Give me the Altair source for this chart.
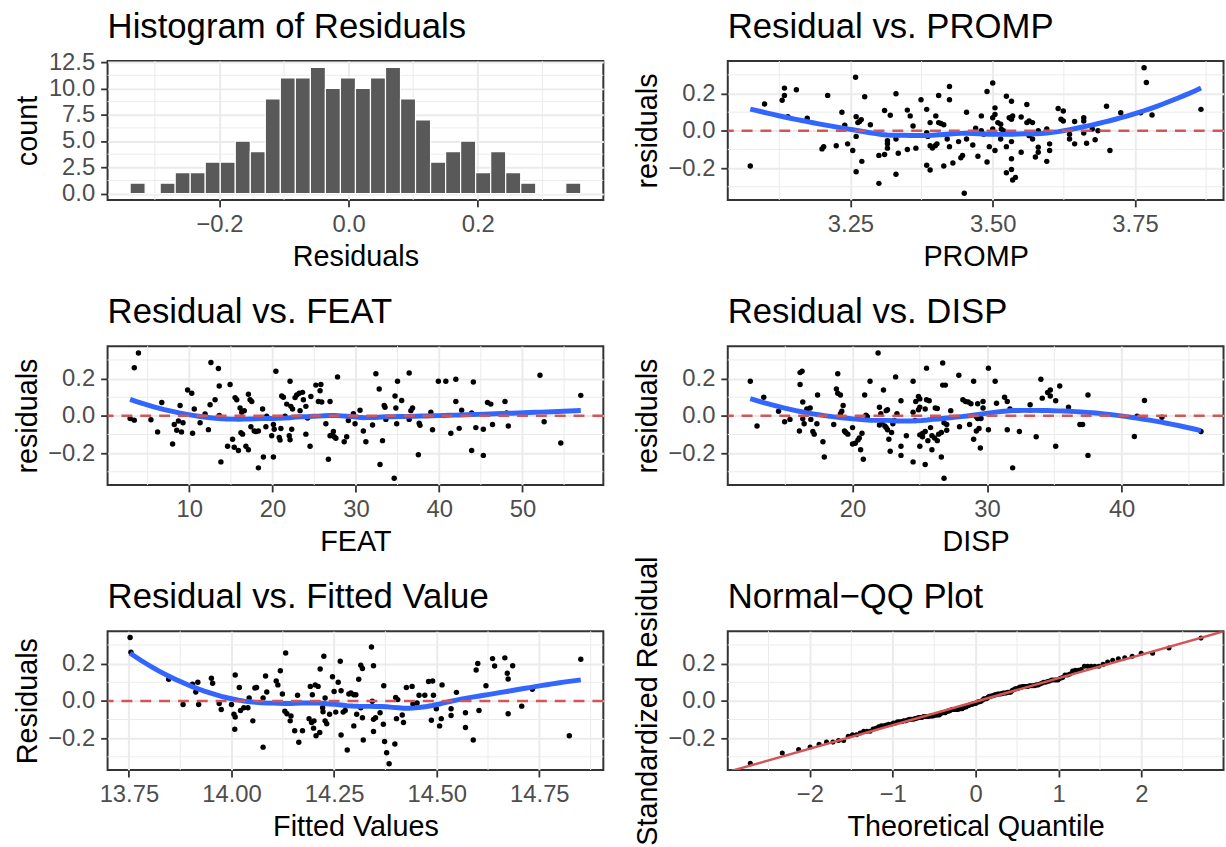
import altair as alt
import numpy as np
import pandas as pd
from statistics import NormalDist

FONT = "Liberation Sans"
GRID = "#EBEBEB"
BORDER = "#333333"
SMOOTH = "#3366FF"
REDLINE = "#D45555"
BARFILL = "#595959"

TITLES = ["Histogram of Residuals", "Residual vs. PROMP", "Residual vs. FEAT",
          "Residual vs. DISP", "Residual vs. Fitted Value", "Normal\u2212QQ Plot"]

# ---------------- histogram (bin counts) ----------------
HIST_COUNTS = [1, 0, 1, 2, 2, 3, 3, 5, 4, 9, 11, 11, 12, 10, 11, 10, 11, 12, 9, 7,
               3, 4, 5, 2, 4, 2, 1, 0, 0, 1]
HIST_FIRST_CENTER = -0.3267
HIST_BIN_WIDTH = 0.02326
HIST_X_TICKS = [-0.2, 0.0, 0.2]
HIST_X_MINOR = [-0.3, -0.1, 0.1, 0.3]
HIST_Y_TICKS = [0, 2.5, 5, 7.5, 10, 12.5]
HIST_Y_MINOR = [1.25, 3.75, 6.25, 8.75, 11.25]

# ---------------- residual axis ----------------
RES_TICKS = [-0.2, 0.0, 0.2]
RES_MINOR = [-0.3, -0.1, 0.1, 0.3]
REF_LEVEL = [0.0]

# ---------------- PROMP ----------------
PROMP_X = [3.074, 3.099, 3.130, 3.134, 3.134, 3.155, 3.140, 3.174, 3.210, 3.200,
           3.203, 3.225, 3.235, 3.240, 3.245, 3.254, 3.259, 3.260, 3.263, 3.266,
           3.269, 3.260, 3.260, 3.270, 3.275, 3.285, 3.300, 3.300, 3.310, 3.310,
           3.315, 3.315, 3.315, 3.320, 3.330, 3.330, 3.330, 3.334, 3.350, 3.355,
           3.350, 3.360, 3.365, 3.374, 3.384, 3.384, 3.386, 3.384, 3.390, 3.390,
           3.390, 3.394, 3.399, 3.402, 3.400, 3.405, 3.405, 3.409, 3.414, 3.414,
           3.420, 3.424, 3.424, 3.424, 3.430, 3.440, 3.444, 3.447, 3.450, 3.454,
           3.454, 3.465, 3.470, 3.474, 3.480, 3.480, 3.484, 3.490, 3.490, 3.494,
           3.500, 3.500, 3.500, 3.504, 3.504, 3.504, 3.509, 3.514, 3.515, 3.519,
           3.514, 3.524, 3.524, 3.524, 3.529, 3.533, 3.535, 3.533, 3.533, 3.533,
           3.533, 3.535, 3.540, 3.550, 3.550, 3.560, 3.560, 3.564, 3.570, 3.564,
           3.570, 3.575, 3.580, 3.580, 3.580, 3.595, 3.595, 3.600, 3.600, 3.615,
           3.624, 3.620, 3.624, 3.635, 3.635, 3.644, 3.644, 3.660, 3.660, 3.660,
           3.665, 3.675, 3.680, 3.685, 3.700, 3.706, 3.725, 3.766, 3.770, 3.760,
           3.780, 3.866]
PROMP_RES = [-0.189, 0.144, 0.164, 0.229, 0.190, 0.220, 0.075, 0.067, 0.190, -0.097,
             -0.085, -0.080, 0.100, 0.030, -0.070, -0.106, 0.287, 0.076, 0.044, 0.050,
             0.060, -0.030, -0.220, -0.164, 0.183, 0.032, -0.282, -0.132, -0.127, 0.109,
             -0.053, -0.070, -0.093, 0.083, 0.199, -0.044, -0.233, -0.120, 0.111, 0.080,
             -0.100, 0.026, -0.093, 0.167, 0.115, -0.010, -0.030, -0.185, -0.210, 0.044,
             -0.080, -0.092, -0.080, -0.070, 0.080, 0.189, 0.044, 0.039, 0.032, -0.189,
             -0.044, 0.238, 0.167, -0.085, -0.173, -0.058, -0.145, -0.132, -0.335, 0.100,
             -0.044, -0.076, 0.014, -0.137, 0.080, 0.000, -0.018, -0.167, 0.211, -0.085,
             0.256, 0.010, 0.070, 0.088, 0.123, -0.106, 0.044, 0.035, 0.009, 0.000,
             -0.044, 0.185, -0.225, -0.085, 0.070, 0.062, 0.079, 0.159, -0.058, -0.150,
             -0.208, -0.264, -0.250, 0.074, -0.115, 0.141, 0.044, 0.053, 0.044, -0.026,
             -0.044, -0.141, -0.115, -0.088, 0.000, 0.010, -0.164, -0.070, -0.106, 0.120,
             0.106, 0.062, 0.053, -0.018, -0.044, -0.070, 0.050, 0.070, 0.053, -0.012,
             -0.067, 0.010, -0.048, 0.000, 0.132, -0.106, 0.097, 0.338, 0.259, 0.097,
             0.085, 0.115]
PROMP_TICKS = [3.25, 3.50, 3.75]
PROMP_MINOR = [3.125, 3.375, 3.625, 3.875]

# ---------------- FEAT ----------------
FEAT_X = [2.9, 3.4, 3.4, 3.9, 5.4, 6.2, 6.7, 8.0, 8.2, 8.5,
          8.7, 8.9, 9.07, 9.25, 9.8, 10.3, 10.4, 10.6, 11.3, 11.9,
          12.3, 12.5, 12.6, 13.1, 13.5, 13.6, 13.6, 13.8, 14.6, 14.9,
          15.2, 15.4, 15.5, 15.7, 15.9, 16.1, 16.2, 16.4, 16.3, 16.6,
          16.8, 17.1, 17.1, 17.3, 17.5, 17.4, 17.8, 18.0, 18.3, 18.3,
          18.8, 18.9, 19.2, 19.3, 19.9, 20.1, 20.1, 20.2, 20.4, 20.8,
          20.9, 21.0, 21.1, 21.3, 21.5, 21.7, 22.0, 22.1, 22.1, 22.2,
          22.4, 22.3, 22.7, 22.9, 23.2, 23.6, 23.3, 23.7, 24.0, 24.0,
          24.2, 24.5, 24.6, 25.2, 25.8, 25.5, 25.7, 25.9, 26.4, 26.7,
          26.9, 26.9, 27.1, 27.4, 27.6, 27.3, 27.8, 28.6, 28.9, 29.1,
          29.7, 29.9, 30.5, 30.9, 31.2, 32.0, 32.4, 32.8, 32.9, 33.2,
          33.4, 33.5, 33.6, 34.6, 34.7, 34.8, 35.0, 34.9, 35.5, 36.4,
          36.4, 36.6, 36.8, 37.5, 37.6, 37.7, 39.0, 39.2, 39.9, 40.8,
          41.4, 42.0, 42.0, 42.4, 42.7, 43.9, 43.9, 44.1, 44.4, 45.3,
          45.3, 45.8, 46.2, 46.4, 47.9, 48.1, 48.3, 52.1, 52.6, 54.6,
          57.0]
FEAT_RES = [-0.014, -0.023, 0.258, 0.337, -0.021, -0.086, 0.072, -0.151, -0.046, -0.077,
            -0.028, 0.056, -0.086, -0.037, 0.139, 0.121, -0.093, 0.037, -0.037, 0.010,
            -0.074, 0.060, 0.286, 0.086, 0.254, 0.160, 0.002, -0.247, -0.163, 0.168,
            -0.125, -0.168, 0.098, 0.086, -0.186, 0.042, -0.090, -0.098, 0.019, 0.028,
            -0.163, -0.182, 0.116, 0.086, 0.077, -0.058, -0.081, -0.084, -0.081, -0.279,
            0.037, -0.221, -0.058, -0.002, -0.107, -0.221, -0.046, -0.072, 0.239, -0.116,
            -0.130, -0.068, 0.107, 0.100, -0.002, 0.063, -0.107, -0.128, 0.186, 0.051,
            0.037, -0.072, 0.098, 0.112, 0.121, 0.126, 0.028, 0.086, 0.051, -0.098,
            -0.011, -0.163, 0.104, 0.165, 0.168, 0.077, 0.135, 0.074, -0.042, -0.233,
            0.077, -0.107, -0.104, -0.112, -0.120, -0.084, 0.209, -0.139, -0.112, -0.025,
            0.011, -0.042, 0.030, -0.081, -0.139, -0.049, 0.226, 0.144, -0.261, -0.133,
            0.056, 0.046, -0.019, -0.335, 0.107, 0.042, 0.186, -0.042, 0.082, 0.230,
            -0.019, 0.028, 0.042, -0.209, -0.040, -0.051, 0.019, -0.075, 0.186, 0.186,
            -0.093, 0.077, 0.196, -0.067, 0.030, -0.186, 0.016, 0.182, -0.063, -0.212,
            -0.072, 0.072, 0.063, -0.046, 0.077, 0.016, -0.054, 0.218, -0.032, -0.146,
            0.110]
FEAT_TICKS = [10, 20, 30, 40, 50]
FEAT_MINOR = [5, 15, 25, 35, 45, 55]

# ---------------- DISP ----------------
DISP_X = [12.4, 12.9, 13.4, 14.5, 14.95, 15.35, 16.05, 16.1, 16.25, 16.1,
          16.3, 16.3, 16.4, 16.6, 16.85, 16.9, 17.05, 17.15, 17.35, 17.4,
          17.8, 17.9, 18.6, 18.8, 18.9, 19.1, 18.9, 19.1, 19.2, 19.3,
          19.4, 19.5, 19.65, 20.0, 20.0, 20.2, 20.4, 20.5, 20.6, 20.7,
          20.8, 20.9, 21.0, 21.1, 21.3, 21.9, 22.0, 22.0, 22.1, 22.3,
          22.2, 22.4, 22.5, 22.6, 22.5, 22.6, 22.7, 22.8, 22.9, 23.0,
          23.1, 23.2, 23.3, 23.6, 23.6, 23.6, 24.0, 24.5, 24.5, 24.5,
          24.65, 24.7, 24.9, 25.0, 24.9, 25.0, 25.0, 25.2, 25.4, 25.0,
          25.2, 25.4, 25.5, 25.7, 25.4, 25.5, 25.6, 25.9, 25.8, 25.9,
          26.1, 26.3, 26.15, 26.3, 26.4, 26.6, 26.6, 26.7, 26.7, 26.9,
          26.8, 27.0, 27.0, 26.8, 27.3, 27.9, 27.95, 28.2, 28.4, 28.6,
          28.8, 28.7, 29.0, 29.0, 29.2, 29.3, 29.2, 29.4, 29.3, 29.5,
          29.55, 29.7, 29.7, 30.1, 30.1, 30.6, 30.7, 31.3, 31.5, 31.5,
          31.7, 31.9, 32.4, 33.2, 33.65, 34.0, 34.1, 34.5, 34.7, 34.7,
          35.1, 35.1, 35.4, 36.05, 36.9, 37.1, 37.5, 37.5, 40.95, 41.15,
          41.7, 43.0, 45.9]
DISP_RES = [0.186, -0.054, 0.100, 0.025, -0.032, -0.019, -0.081, 0.232, 0.239, 0.168,
            0.074, -0.016, -0.042, 0.037, 0.042, -0.019, -0.084, -0.098, -0.042, 0.112,
            -0.139, -0.221, -0.046, 0.144, 0.121, 0.112, 0.226, 0.012, 0.025, 0.056,
            -0.081, -0.089, -0.098, -0.063, -0.151, -0.147, -0.130, -0.119, -0.182, -0.093,
            -0.233, 0.112, 0.004, -0.005, 0.186, 0.337, -0.049, 0.046, 0.011, 0.139,
            -0.033, -0.054, 0.028, 0.033, -0.063, -0.075, -0.125, -0.190, -0.089, -0.042,
            -0.025, 0.209, 0.011, -0.212, 0.081, -0.163, -0.107, 0.186, 0.019, -0.247,
            -0.025, 0.077, 0.104, 0.091, 0.033, 0.047, -0.102, -0.095, -0.084, -0.163,
            -0.112, 0.037, 0.086, 0.081, -0.261, 0.256, -0.133, -0.182, -0.063, -0.107,
            -0.119, -0.133, 0.042, 0.039, -0.098, -0.089, -0.221, 0.284, 0.165, 0.165,
            -0.037, -0.046, -0.077, -0.335, 0.028, 0.218, -0.058, 0.086, 0.077, 0.074,
            0.065, -0.046, 0.186, -0.125, -0.005, -0.014, -0.081, -0.068, 0.065, -0.172,
            -0.014, 0.042, 0.077, 0.256, -0.075, 0.186, 0.068, 0.100, 0.077, -0.075,
            0.037, -0.279, -0.084, 0.060, -0.112, 0.196, 0.095, 0.125, 0.139, 0.107,
            -0.163, 0.081, 0.160, 0.047, -0.046, -0.046, -0.212, 0.112, -0.111, -0.002,
            0.082, -0.007, -0.084]
DISP_TICKS = [20, 30, 40]
DISP_MINOR = [15, 25, 35, 45]

# ---------------- Fitted values ----------------
FITTED_X = [13.753, 13.755, 13.847, 13.882, 13.905, 13.913, 13.918, 13.920, 13.951, 13.954,
            13.970, 13.975, 14.000, 14.006, 14.009, 14.008, 14.009, 14.019, 14.022, 14.030,
            14.040, 14.043, 14.052, 14.057, 14.061, 14.077, 14.077, 14.083, 14.086, 14.109,
            14.113, 14.119, 14.124, 14.130, 14.135, 14.145, 14.132, 14.143, 14.154, 14.173,
            14.161, 14.164, 14.189, 14.195, 14.201, 14.192, 14.197, 14.204, 14.211, 14.200,
            14.206, 14.215, 14.216, 14.222, 14.223, 14.225, 14.228, 14.232, 14.228, 14.239,
            14.246, 14.250, 14.254, 14.260, 14.265, 14.267, 14.267, 14.272, 14.277, 14.282,
            14.286, 14.291, 14.298, 14.303, 14.298, 14.305, 14.310, 14.315, 14.319, 14.315,
            14.319, 14.321, 14.341, 14.343, 14.346, 14.346, 14.351, 14.346, 14.362, 14.370,
            14.371, 14.373, 14.378, 14.384, 14.398, 14.400, 14.405, 14.402, 14.416, 14.419,
            14.426, 14.440, 14.442, 14.452, 14.457, 14.471, 14.480, 14.490, 14.487, 14.492,
            14.499, 14.507, 14.511, 14.513, 14.535, 14.535, 14.548, 14.570, 14.570, 14.589,
            14.596, 14.600, 14.603, 14.620, 14.636, 14.641, 14.666, 14.672, 14.674, 14.674,
            14.685, 14.707, 14.733, 14.823, 14.851]
FITTED_RES = [0.340, 0.261, 0.116, -0.019, 0.090, 0.048, 0.100, -0.019, 0.122, 0.095,
              -0.014, -0.046, -0.019, -0.072, -0.086, -0.152, 0.139, 0.072, -0.051, -0.037,
              -0.037, 0.016, -0.107, 0.069, 0.072, -0.248, 0.016, 0.134, 0.048, 0.107,
              0.086, 0.162, 0.037, -0.055, -0.069, -0.081, 0.257, -0.107, -0.160, -0.160,
              0.030, -0.222, -0.095, -0.116, -0.107, 0.078, 0.033, 0.086, 0.078, -0.146,
              -0.187, -0.169, 0.171, -0.037, -0.058, 0.240, -0.107, -0.122, 0.016, -0.072,
              0.130, 0.051, -0.060, 0.100, 0.213, 0.055, -0.183, -0.060, -0.051, -0.263,
              0.037, 0.042, 0.033, 0.033, -0.134, -0.072, 0.116, 0.192, 0.174, -0.037,
              -0.090, -0.210, 0.289, -0.002, 0.189, -0.099, -0.090, -0.164, -0.063, -0.125,
              0.081, -0.218, -0.278, -0.337, -0.231, 0.019, 0.007, -0.095, -0.076, -0.116,
              0.072, 0.078, -0.016, -0.011, 0.030, 0.030, 0.104, 0.107, -0.104, 0.030,
              -0.042, -0.134, -0.095, 0.086, -0.042, -0.078, 0.046, -0.063, -0.143, -0.210,
              0.166, 0.201, -0.051, 0.081, 0.227, 0.187, 0.231, 0.148, 0.118, -0.069,
              0.189, -0.028, 0.063, -0.187, 0.224]
FITTED_TICKS = [13.75, 14.00, 14.25, 14.50, 14.75]
FITTED_MINOR = [13.875, 14.125, 14.375, 14.625, 14.875]

# ---------------- QQ ----------------
QQ_TICKS = [-2, -1, 0, 1, 2]
QQ_MINOR = [-2.5, -1.5, -0.5, 0.5, 1.5, 2.5]

# ======================================================================
PANEL_W = 500
PANEL_H = 140


def expand(values, frac=0.05):
    lo, hi = float(min(values)), float(max(values))
    r = hi - lo
    return [lo - frac * r, hi + frac * r]


def loess_curve(x, y, span=0.75, n=80):
    x = np.asarray(x, float)
    y = np.asarray(y, float)
    N = len(x)
    q = int(np.floor(N * span))
    grid = np.linspace(x.min(), x.max(), n)
    fit = []
    for g in grid:
        d = np.abs(x - g)
        h = np.sort(d)[q - 1]
        w = np.clip(1 - (d / h) ** 3, 0, None) ** 3
        X = np.column_stack([np.ones(N), x - g, (x - g) ** 2])
        sw = np.sqrt(w)
        beta = np.linalg.lstsq(X * sw[:, None], y * sw, rcond=None)[0]
        fit.append(beta[0])
    return grid, np.array(fit)


RES_DOMAIN = expand(PROMP_RES + FEAT_RES + DISP_RES + FITTED_RES)


def xaxis(title, values, fmt):
    return alt.Axis(title=title, values=values, format=fmt)


def yaxis(title, values, fmt):
    return alt.Axis(title=title, values=values, format=fmt, titleX=-72,
                    titleY=PANEL_H / 2, titleAngle=270, titleBaseline="alphabetic",
                    titleAlign="center")


def title_layer(text):
    return alt.Chart(pd.DataFrame({"t": [text]})).mark_text(
        align="left", baseline="alphabetic", font=FONT, fontSize=35, color="black"
    ).encode(x=alt.value(0), y=alt.value(-23), text="t:N")


def minor_layers(xs, ys, xax, yax, xminor, yminor):
    gx = alt.Chart(pd.DataFrame({"gx": xminor})).mark_rule(
        color=GRID, strokeWidth=1).encode(x=alt.X("gx:Q", scale=xs, axis=xax))
    gy = alt.Chart(pd.DataFrame({"gy": yminor})).mark_rule(
        color=GRID, strokeWidth=1).encode(y=alt.Y("gy:Q", scale=ys, axis=yax))
    return [gx, gy]


def scatter_panel(title, xv, yv, xticks, xminor, xfmt, xtitle, ytitle):
    xs = alt.Scale(domain=expand(xv), nice=False, zero=False)
    ys = alt.Scale(domain=RES_DOMAIN, nice=False, zero=False)
    xax = xaxis(xtitle, xticks, xfmt)
    yax = yaxis(ytitle, RES_TICKS, ".1f")
    pts = alt.Chart(pd.DataFrame({"x": xv, "y": yv})).mark_circle(
        size=30, color="black", opacity=1).encode(
        x=alt.X("x:Q", scale=xs, axis=xax), y=alt.Y("y:Q", scale=ys, axis=yax))
    sx, sy = loess_curve(xv, yv)
    smooth = alt.Chart(pd.DataFrame({"x": sx, "y": sy})).mark_line(
        color=SMOOTH, strokeWidth=5).encode(
        x=alt.X("x:Q", scale=xs, axis=xax), y=alt.Y("y:Q", scale=ys, axis=yax))
    ref = alt.Chart(pd.DataFrame({"y": REF_LEVEL})).mark_rule(
        color=REDLINE, strokeWidth=2.5, strokeDash=[11, 8]).encode(
        y=alt.Y("y:Q", scale=ys, axis=yax))
    return alt.layer(*minor_layers(xs, ys, xax, yax, xminor, RES_MINOR),
                     pts, smooth, ref, title_layer(title)).properties(
        width=PANEL_W, height=PANEL_H)


# ---- histogram panel
centers = [HIST_FIRST_CENTER + i * HIST_BIN_WIDTH for i in range(len(HIST_COUNTS))]
hist_df = pd.DataFrame({
    "x0": [c - HIST_BIN_WIDTH / 2 for c in centers],
    "x1": [c + HIST_BIN_WIDTH / 2 for c in centers],
    "count": HIST_COUNTS,
    "base": [0] * len(HIST_COUNTS),
})
hxs = alt.Scale(domain=expand(list(hist_df["x0"]) + list(hist_df["x1"])), nice=False, zero=False)
hys = alt.Scale(domain=expand([0] + HIST_COUNTS), nice=False, zero=False)
hxax = xaxis("Residuals", HIST_X_TICKS, ".1f")
hyax = yaxis("count", HIST_Y_TICKS, ".1f")
bars = alt.Chart(hist_df).mark_rect(color=BARFILL, stroke="white", strokeWidth=1.2).encode(
    x=alt.X("x0:Q", scale=hxs, axis=hxax), x2="x1:Q",
    y=alt.Y("count:Q", scale=hys, axis=hyax), y2="base:Q")
hist = alt.layer(*minor_layers(hxs, hys, hxax, hyax, HIST_X_MINOR, HIST_Y_MINOR),
                 bars, title_layer(TITLES[0])).properties(width=PANEL_W, height=PANEL_H)

promp = scatter_panel(TITLES[1], PROMP_X, PROMP_RES, PROMP_TICKS, PROMP_MINOR, ".2f",
                      "PROMP", "residuals")
feat = scatter_panel(TITLES[2], FEAT_X, FEAT_RES, FEAT_TICKS, FEAT_MINOR, "d",
                     "FEAT", "residuals")
disp = scatter_panel(TITLES[3], DISP_X, DISP_RES, DISP_TICKS, DISP_MINOR, "d",
                     "DISP", "residuals")
fitted = scatter_panel(TITLES[4], FITTED_X, FITTED_RES, FITTED_TICKS, FITTED_MINOR, ".2f",
                       "Fitted Values", "Residuals")

# ---- QQ panel
qq_sample = sorted(DISP_RES)
n = len(qq_sample)
nd = NormalDist()
qq_theo = [nd.inv_cdf((i + 0.5) / n) for i in range(n)]
q25, q75 = np.quantile(qq_sample, [0.25, 0.75])
slope = (q75 - q25) / (nd.inv_cdf(0.75) - nd.inv_cdf(0.25))
intercept = q25 - slope * nd.inv_cdf(0.25)
qq_xdom = expand(qq_theo)
line_x = [qq_xdom[0] - 0.5, qq_xdom[1] + 0.5]
line_df = pd.DataFrame({"x": line_x, "y": [intercept + slope * v for v in line_x]})

qxs = alt.Scale(domain=qq_xdom, nice=False, zero=False)
qys = alt.Scale(domain=RES_DOMAIN, nice=False, zero=False)
qxax = xaxis("Theoretical Quantile", QQ_TICKS, "d")
qyax = yaxis("Standardized Residual", RES_TICKS, ".1f")
qq_pts = alt.Chart(pd.DataFrame({"x": qq_theo, "y": qq_sample})).mark_circle(
    size=26, color="black", opacity=1).encode(
    x=alt.X("x:Q", scale=qxs, axis=qxax), y=alt.Y("y:Q", scale=qys, axis=qyax))
qq_line = alt.Chart(line_df).mark_line(color=REDLINE, strokeWidth=2.5, clip=True).encode(
    x=alt.X("x:Q", scale=qxs, axis=qxax), y=alt.Y("y:Q", scale=qys, axis=qyax))
qq = alt.layer(*minor_layers(qxs, qys, qxax, qyax, QQ_MINOR, RES_MINOR),
               qq_pts, qq_line, title_layer(TITLES[5])).properties(
    width=PANEL_W, height=PANEL_H)

chart = alt.concat(hist, promp, feat, disp, fitted, qq, columns=2,
                   spacing={"row": 147.5, "column": 125.5}, bounds="flush").properties(
    padding={"left": 12.5, "top": 6, "right": 0, "bottom": 0}
).configure_axis(
    domain=False, grid=True, gridColor=GRID, gridWidth=2,
    ticks=True, tickColor=BORDER, tickWidth=1.8, tickSize=7,
    labelFont=FONT, labelFontSize=24, labelColor="#4D4D4D", labelPadding=6,
    labelFlush=False, labelOverlap=False,
    titleFont=FONT, titleFontSize=29, titleFontWeight="normal", titleColor="black",
    titlePadding=6,
).configure_view(stroke=BORDER, strokeWidth=2)

chart.save("out.html", embed_options={"renderer": "svg", "actions": False})
